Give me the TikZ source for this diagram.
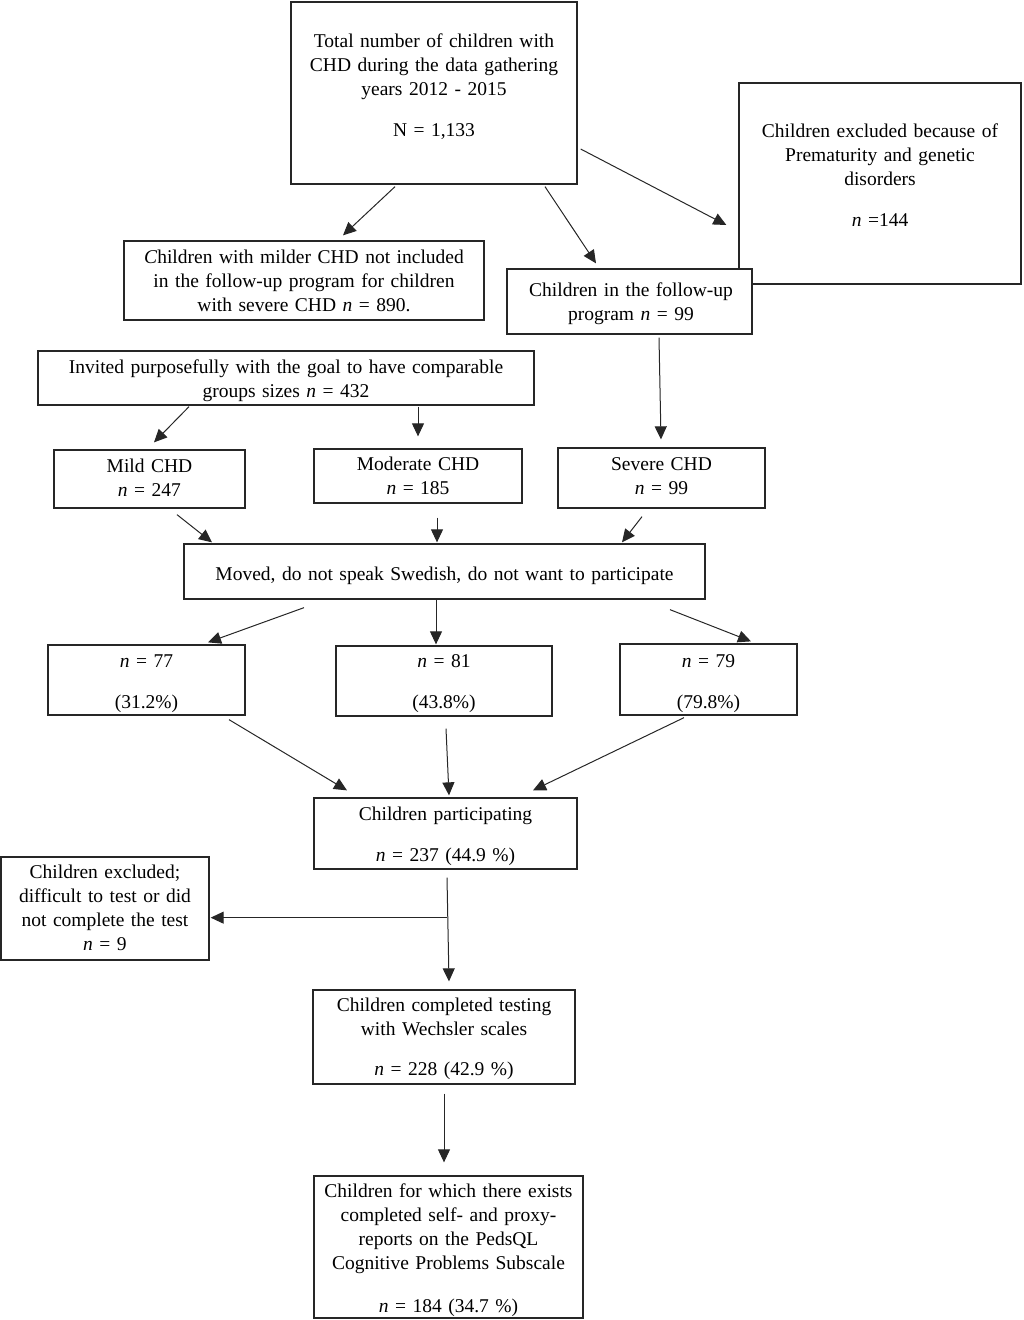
\documentclass[tikz,border=0pt]{standalone}
\usepackage{fontspec}
\setmainfont{Liberation Serif}
\usetikzlibrary{calc,arrows.meta}
\begin{document}
\begin{tikzpicture}[x=1pt,y=-1pt,
  box/.style={draw=black!85, line width=1.3pt, inner sep=0pt, fill=white},
  txt/.style={anchor=base, align=center, inner sep=0pt, text width=600pt,
    font=\fontsize{19.5}{24.3}\selectfont},
  arr/.style={draw=black!85, line width=1pt, -{Triangle[length=13pt,width=12pt]}},
  ln/.style={draw=black!85, line width=1pt}]
\useasboundingbox (0,0) rectangle (1024,1320);

% boxes
\node[box, minimum width=286pt, minimum height=182pt] (top) at (434,93) {};
\node[box, minimum width=282pt, minimum height=201pt] (excl) at (880,183.5) {};
\node[box, minimum width=360pt, minimum height=79pt] (milder) at (304,280.5) {};
\node[box, minimum width=245pt, minimum height=65pt] (follow) at (629.5,301.5) {};
\node[box, minimum width=496pt, minimum height=54pt] (invited) at (286,378) {};
\node[box, minimum width=191pt, minimum height=58pt] (mild) at (149.5,479) {};
\node[box, minimum width=208pt, minimum height=54pt] (moderate) at (418,476) {};
\node[box, minimum width=207pt, minimum height=60pt] (severe) at (661.5,478) {};
\node[box, minimum width=521pt, minimum height=55pt] (moved) at (444.5,571.5) {};
\node[box, minimum width=197pt, minimum height=70pt] (n77) at (146.5,680) {};
\node[box, minimum width=216pt, minimum height=70pt] (n81) at (444,681) {};
\node[box, minimum width=177pt, minimum height=71pt] (n79) at (708.5,679.5) {};
\node[box, minimum width=263pt, minimum height=71pt] (part) at (445.5,833.5) {};
\node[box, minimum width=208pt, minimum height=103pt] (exclL) at (105,908.5) {};
\node[box, minimum width=262pt, minimum height=94pt] (comp) at (444,1037) {};
\node[box, minimum width=269pt, minimum height=142pt] (peds) at (448.5,1247) {};

% texts
\node[txt] (ttop) at (434,47) {Total number of children with\\ CHD during the data gathering\\ years 2012 - 2015\\[16.5pt] N = 1,133};
\node[txt] (texcl) at (880,137) {Children excluded because of\\ Prematurity and genetic\\ disorders\\[17pt] \textit{n} =144};
\node[txt] (tmilder) at (304,263) {\textit{C}hildren with milder CHD not included\\ in the follow-up program for children\\ with severe CHD \textit{n} = 890.};
\node[txt] (tfollow) at (631,296) {Children in the follow-up\\ program \textit{n} = 99};
\node[txt] (tinvited) at (286,373) {Invited purposefully with the goal to have comparable\\ groups sizes \textit{n} = 432};
\node[txt] (tmild) at (149.5,472) {Mild CHD\\ \textit{n} = 247};
\node[txt] (tmoderate) at (418,470) {Moderate CHD\\ \textit{n} = 185};
\node[txt] (tsevere) at (661.5,470) {Severe CHD\\ \textit{n} = 99};
\node[txt] (tmoved) at (444.5,580) {Moved, do not speak Swedish, do not want to participate};
\node[txt] (tn77) at (146.5,667) {\textit{n} = 77\\[17pt] (31.2\%)};
\node[txt] (tn81) at (444,667) {\textit{n} = 81\\[17pt] (43.8\%)};
\node[txt] (tn79) at (708.5,667) {\textit{n} = 79\\[17pt] (79.8\%)};
\node[txt] (tpart) at (445.5,820) {Children participating\\[17pt] \textit{n} = 237 (44.9 \%)};
\node[txt] (texclL) at (105,878) {Children excluded;\\ difficult to test or did\\ not complete the test\\ \textit{n} = 9};
\node[txt] (tcomp) at (444,1011) {Children completed testing\\ with Wechsler scales\\[16pt] \textit{n} = 228 (42.9 \%)};
\node[txt] (tpeds) at (448.5,1197) {Children for which there exists\\ completed self- and proxy-\\ reports on the PedsQL\\ Cognitive Problems Subscale\\[18pt] \textit{n} = 184 (34.7 \%)};

% connectors
\draw[arr] ($(top.south)+(-39,2)$) -- ($(milder.north)+(39,-5)$);
\draw[arr] ($(top.south)+(111,2)$) -- ($(follow.north)+(-33.5,-5)$);
\draw[arr] ($(top.east)+(3,56)$) -- ($(excl.west)+(-12,41.5)$);
\draw[arr] ($(invited.south)+(-97,1)$) -- ($(mild.north)+(4.5,-7)$);
\draw[arr] ($(invited.south)+(132,1)$) -- ($(moderate.north)+(0,-12)$);
\draw[arr] ($(follow.south)+(29.5,3)$) -- ($(severe.north)+(-0.5,-8)$);
\draw[arr] ($(mild.south)+(27.5,6)$) -- ($(moved.north)+(-232.5,-1)$);
\draw[arr] ($(moderate.south)+(19,14)$) -- ($(moved.north)+(-7.5,-1)$);
\draw[arr] ($(severe.south)+(-19.5,8)$) -- ($(moved.north)+(177.5,-1)$);
\draw[arr] ($(moved.south)+(-140.5,8)$) -- ($(n77.north)+(61.5,-2)$);
\draw[arr] ($(moved.south)+(-8.5,0)$) -- ($(n81.north)+(-8,-1)$);
\draw[arr] ($(moved.south)+(225.5,10)$) -- ($(n79.north)+(42.5,-2)$);
\draw[arr] ($(n77.south)+(82.5,4)$) -- ($(part.north)+(-98.5,-7)$);
\draw[arr] ($(n81.south)+(2,12)$) -- ($(part.north)+(3.5,-2)$);
\draw[arr] ($(n79.south)+(-24.5,2)$) -- ($(part.north)+(87.5,-7)$);
\draw[arr] ($(part.south)+(1.5,8)$) -- ($(comp.north)+(5,-8)$);
\coordinate (j) at ($(part.south)+(1.7,48)$);
\draw[arr] (j) -- ($(j -| exclL.east)+(1,0)$);
\draw[arr] ($(comp.south)+(0,9)$) -- ($(peds.north)+(-4.5,-13)$);
\end{tikzpicture}
\end{document}
